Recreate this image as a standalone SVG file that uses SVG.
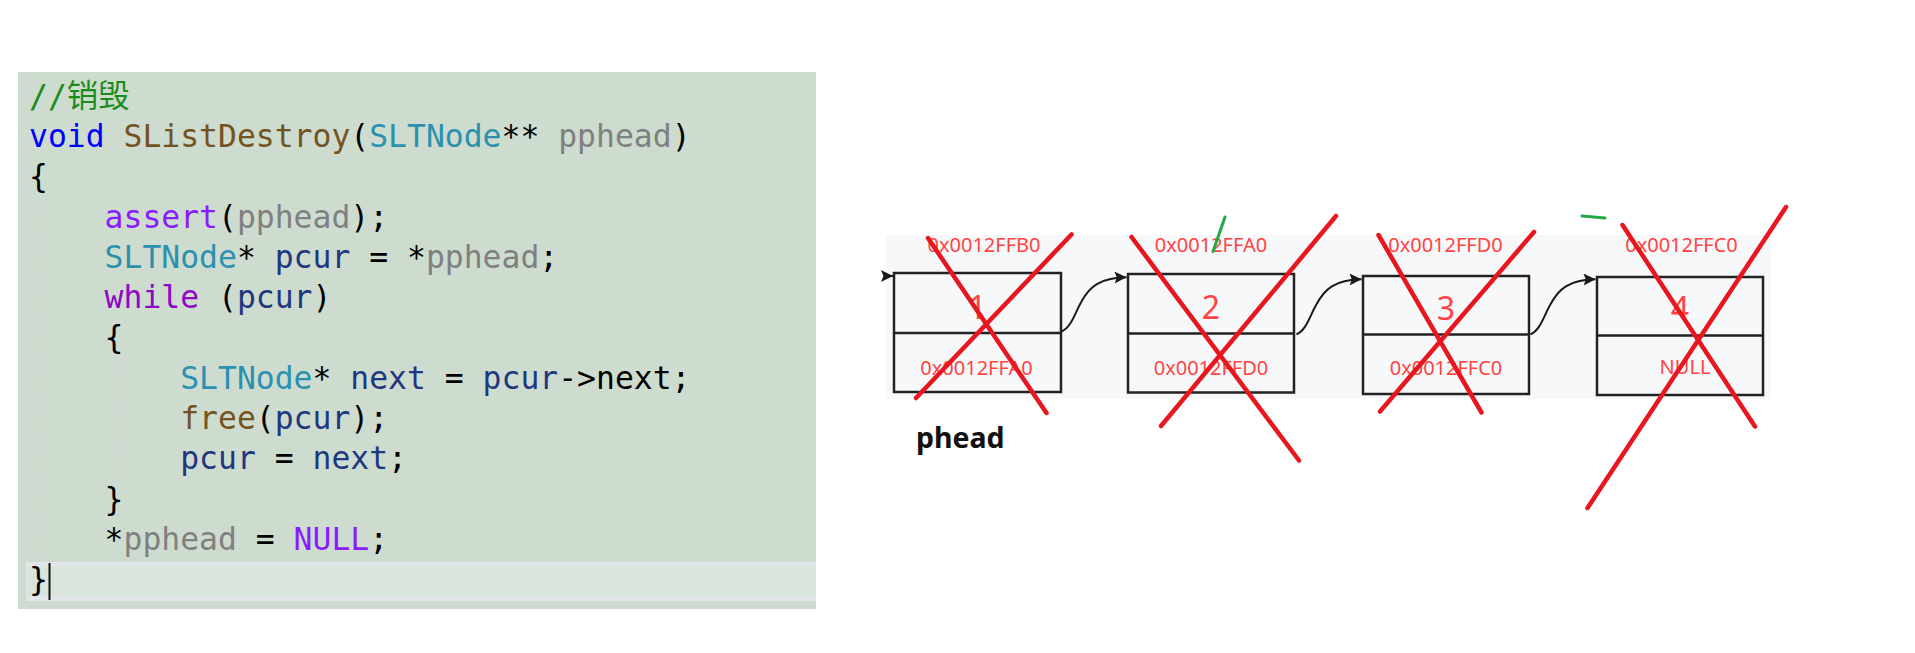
<svg xmlns="http://www.w3.org/2000/svg" width="1915" height="653" viewBox="0 0 1915 653">
<defs>
<style>
.code{font-family:"DejaVu Sans Mono","Noto Sans CJK SC",monospace;font-size:31.4px;fill:#000;white-space:pre}
.cm{fill:#1b8c1b}.kw{fill:#0000ff}.fn{fill:#74531f}.ty{fill:#2b91af}.pm{fill:#808080}.mc{fill:#8a1bff}.ct{fill:#8f08c4}.lv{fill:#1f377f}
.guide{stroke:#d6d0d8;stroke-width:2;stroke-dasharray:6 4}
.box{fill:none;stroke:#222;stroke-width:2.5}
.addr{font-family:"Noto Sans","Liberation Sans",sans-serif;font-size:20px;fill:#ff4444;text-anchor:middle}
.num{font-family:"Noto Sans","Liberation Sans",sans-serif;font-size:32px;fill:#ff4444;text-anchor:middle}
.link{fill:none;stroke:#1a1a1a;stroke-width:2}
.cross{stroke:#e8161f;stroke-width:4.5;stroke-linecap:round}
.green{fill:none;stroke:#22aa44;stroke-width:3;stroke-linecap:round}
</style>
<marker id="ah" viewBox="0 0 10 10" refX="10" refY="5" markerWidth="6" markerHeight="6" orient="auto" markerUnits="strokeWidth">
<path d="M0,0 L10,5 L0,10 L2,5 Z" fill="#1a1a1a"/>
</marker>
</defs>
<rect width="1915" height="653" fill="#ffffff"/>

<g id="code-panel">
<rect x="18" y="72" width="798" height="537" fill="#cddccf"/>
<rect x="26" y="562" width="790" height="39" fill="#e3e6ea"/>
<rect x="26" y="566.5" width="790" height="30" fill="#d9e5da"/>
<line class="guide" x1="37" y1="201" x2="37" y2="561"/>
<line class="guide" x1="114" y1="360" x2="114" y2="483"/>
<text class="code" x="29" y="107"><tspan class="cm">//销毁</tspan></text>
<text class="code" x="29" y="147"><tspan class="kw">void</tspan> <tspan class="fn">SListDestroy</tspan>(<tspan class="ty">SLTNode</tspan>** <tspan class="pm">pphead</tspan>)</text>
<text class="code" x="29" y="187">{</text>
<text class="code" x="104.6" y="228"><tspan class="mc">assert</tspan>(<tspan class="pm">pphead</tspan>);</text>
<text class="code" x="104.6" y="268"><tspan class="ty">SLTNode</tspan>* <tspan class="lv">pcur</tspan> = *<tspan class="pm">pphead</tspan>;</text>
<text class="code" x="104.6" y="308"><tspan class="ct">while</tspan> (<tspan class="lv">pcur</tspan>)</text>
<text class="code" x="104.6" y="348">{</text>
<text class="code" x="180.2" y="389"><tspan class="ty">SLTNode</tspan>* <tspan class="lv">next</tspan> = <tspan class="lv">pcur</tspan>-&gt;next;</text>
<text class="code" x="180.2" y="429"><tspan class="fn">free</tspan>(<tspan class="lv">pcur</tspan>);</text>
<text class="code" x="180.2" y="469"><tspan class="lv">pcur</tspan> = <tspan class="lv">next</tspan>;</text>
<text class="code" x="104.6" y="510">}</text>
<text class="code" x="104.6" y="550">*<tspan class="pm">pphead</tspan> = <tspan class="mc">NULL</tspan>;</text>
<text class="code" x="29" y="590">}</text>
<line x1="49.5" y1="563" x2="49.5" y2="600" stroke="#111" stroke-width="2"/>
</g>

<rect id="list-bg" x="886" y="235" width="885" height="164" fill="#f7f8fa"/>

<g id="node1">
<rect class="box" x="894" y="273" width="167" height="119"/>
<line class="box" x1="894" y1="333" x2="1061" y2="333"/>
<text class="addr" x="984" y="252">0x0012FFB0</text>
<text class="num" x="977.5" y="319">1</text>
<text class="addr" x="976.5" y="375">0x0012FFA0</text>
</g>
<g id="node2">
<rect class="box" x="1128" y="274" width="166" height="118.5"/>
<line class="box" x1="1128" y1="333.5" x2="1294" y2="333.5"/>
<text class="addr" x="1211" y="252">0x0012FFA0</text>
<text class="num" x="1211" y="319">2</text>
<text class="addr" x="1211" y="375">0x0012FFD0</text>
</g>
<g id="node3">
<rect class="box" x="1363" y="276" width="166" height="118"/>
<line class="box" x1="1363" y1="334.5" x2="1529" y2="334.5"/>
<text class="addr" x="1445.5" y="252">0x0012FFD0</text>
<text class="num" x="1446" y="320">3</text>
<text class="addr" x="1446" y="375">0x0012FFC0</text>
</g>
<g id="node4">
<rect class="box" x="1597" y="277" width="166" height="118"/>
<line class="box" x1="1597" y1="335.5" x2="1763" y2="335.5"/>
<text class="addr" x="1681.5" y="252">0x0012FFC0</text>
<text class="num" x="1680" y="320">4</text>
<text class="addr" x="1685" y="374">NULL</text>
</g>
<g id="phead-label">
<text x="916" y="448" font-family="'Noto Sans','Liberation Sans',sans-serif" font-weight="bold" font-size="28.5" fill="#111">phead</text>
</g>

<g id="connectors">
<path class="link" d="M884,276 L893,276" marker-end="url(#ah)"/>
<path class="link" d="M1061.5,331.5 C1071.5,327.5 1075.5,311.5 1081.5,301.5 C1089.5,286.5 1099.5,278 1126.5,277.3" marker-end="url(#ah)"/>
<path class="link" d="M1296.5,334.3 C1306.5,330.3 1310.5,314.3 1316.5,304.3 C1324.5,289.3 1334.5,279.8 1361.5,279.3" marker-end="url(#ah)"/>
<path class="link" d="M1530.5,334.3 C1540.5,330.3 1544.5,314.3 1550.5,304.3 C1558.5,289.3 1568.5,279.8 1595.5,279.3" marker-end="url(#ah)"/>
</g>

<g id="cross-marks">
<line class="cross" x1="928" y1="238" x2="1046.5" y2="413"/>
<line class="cross" x1="1071.5" y1="234.5" x2="916" y2="398"/>
<line class="cross" x1="1131.5" y1="237" x2="1299" y2="460.5"/>
<line class="cross" x1="1336" y1="216" x2="1161" y2="426"/>
<line class="cross" x1="1378.5" y1="235" x2="1481.5" y2="412.5"/>
<line class="cross" x1="1534" y1="232" x2="1380" y2="411.5"/>
<line class="cross" x1="1622.5" y1="225" x2="1755" y2="426.5"/>
<line class="cross" x1="1786" y1="207" x2="1587.5" y2="508"/>
<path class="green" d="M1225,217 L1213,251.5"/>
<path class="green" d="M1582,216 L1605,218"/>
</g>
</svg>
